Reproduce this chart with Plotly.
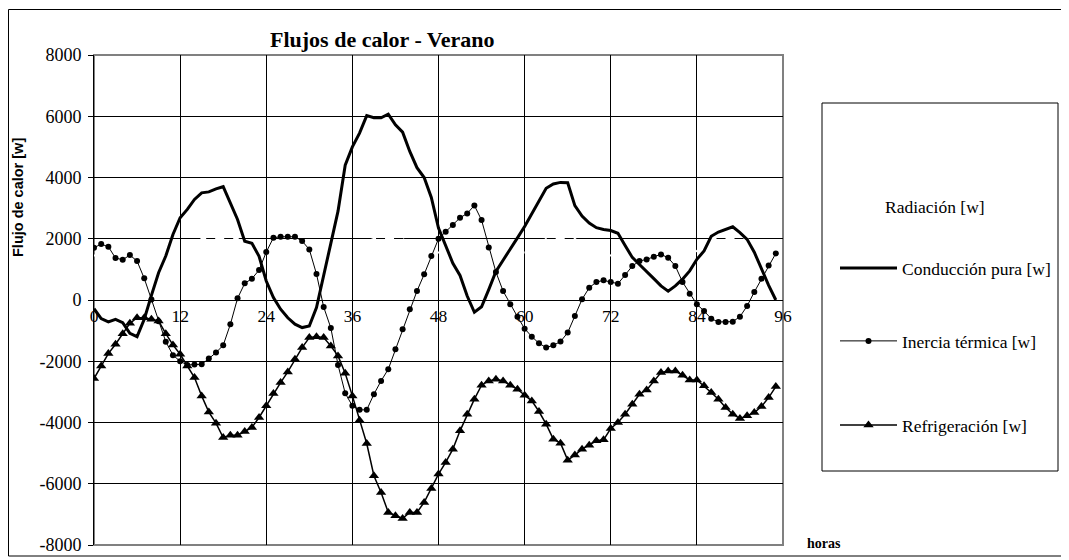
import plotly.graph_objects as go

# Datos horarios (0..95 h)
horas = list(range(96))

conduccion = [
    -283, -609, -717, -630, -739, -1087, -1196, -630, 152, 891, 1435, 2141,
    2685, 2957, 3283, 3500, 3530, 3630, 3700, 3170, 2630, 1920, 1850, 1430,
    620, 80, -300, -580, -790, -900, -850, -250, 850, 1850, 2900, 4400,
    5000, 5450, 6020, 5950, 5950, 6070, 5720, 5480, 4850, 4320, 4000, 3350,
    2350, 1760, 1200, 800, 130, -400, -220, 340, 930, 1300, 1650, 2030,
    2400, 2830, 3260, 3650, 3790, 3840, 3830, 3080, 2740, 2510, 2360, 2300,
    2270, 2180, 1780, 1390, 1160, 940, 700, 460, 290, 460, 680, 950,
    1330, 1600, 2080, 2220, 2300, 2390, 2200, 1980, 1560, 1000, 480, 0,
]

inercia = [
    1707, 1826, 1739, 1370, 1315, 1467, 1272, 707, 20, -690, -1360, -1800,
    -2000, -2120, -2110, -2100, -1913, -1717, -1478, -794, 54, 543, 696, 978,
    1565, 2033, 2065, 2065, 2065, 1924, 1652, 848, -228, -913, -2120, -3044,
    -3457, -3587, -3587, -3076, -2641, -2261, -1609, -957, -304, 293, 837, 1435,
    2000, 2228, 2446, 2685, 2826, 3087, 2609, 1717, 913, 293, -141, -544,
    -935, -1196, -1413, -1554, -1478, -1359, -1065, -522, 22, 402, 587, 641,
    587, 533, 815, 1109, 1272, 1326, 1413, 1489, 1380, 1109, 587, 207,
    -141, -359, -609, -717, -717, -707, -544, -196, 261, 696, 1130, 1522,
]

refrigeracion = [
    -2565, -2152, -1750, -1446, -1098, -761, -576, -576, -630, -685, -1098, -1467,
    -1772, -2152, -2533, -3131, -3660, -4022, -4489, -4413, -4413, -4294, -4163, -3837,
    -3457, -3054, -2696, -2348, -1935, -1554, -1228, -1196, -1228, -1500, -1826, -2391,
    -3131, -3924, -4685, -5739, -6283, -6935, -7044, -7131, -6935, -6935, -6609, -6152,
    -5685, -5305, -4870, -4272, -3728, -3239, -2783, -2641, -2587, -2641, -2783, -2913,
    -3109, -3294, -3641, -4054, -4544, -4674, -5229, -5065, -4870, -4739, -4598, -4565,
    -4196, -4000, -3728, -3402, -3076, -2935, -2641, -2370, -2315, -2315, -2457, -2609,
    -2609, -2804, -3022, -3239, -3511, -3728, -3870, -3783, -3674, -3478, -3185, -2826,
]

radiacion = [
    1450, 1450, 1450, 1450, 1450, 1480, 1500, 1520, 1540, 1550, 1550, 1550,
    1550, 1600, 1800, 2000, 2000, 2000, 2000, 2000, 2000, 1800, 1600, 1550,
    1500, 1500, 1500, 1500, 1500, 1500, 1520, 1540, 1550, 1550, 1550, 1550,
    1550, 1600, 1900, 2000, 2000, 2000, 2000, 2000, 1800, 1600, 1550, 1550,
    1550, 1550, 1550, 1550, 1550, 1550, 1550, 1550, 1550, 1550, 1550, 1550,
    1550, 1600, 1800, 2000, 2000, 2000, 2000, 2000, 1800, 1600, 1550, 1550,
    1450, 1450, 1500, 1500, 1500, 1500, 1520, 1540, 1550, 1550, 1550, 1550,
    1600, 1800, 2000, 2000, 2000, 2000, 2000, 2000, 1800, 1600, 1550, 1550,
]

xticks = [0, 12, 24, 36, 48, 60, 72, 84, 96]
yticks = [-8000, -6000, -4000, -2000, 0, 2000, 4000, 6000, 8000]

# La pagina agrega 8 px de margen al body: se trabaja en px de pantalla
OFF = 8
W, H = 1069 - OFF, 560 - OFF
L, R, T, B = 94 - OFF, 783 - OFF, 55 - OFF, 545 - OFF


def px(x):
    return (x - OFF - L) / (R - L)


def py(y):
    return (B - (y - OFF)) / (B - T)


SERIF = "Liberation Serif, Times New Roman, serif"
SANS = "Liberation Sans, Arial, sans-serif"

fig = go.Figure()

fig.add_trace(go.Scatter(
    x=horas, y=radiacion, mode='lines', name='Radiación [w]',
    line=dict(color='white', width=2, dash='dash'),
    legend='legend', hoverinfo='skip'
))
fig.add_trace(go.Scatter(
    x=horas, y=conduccion, mode='lines', name='Conducción pura [w]',
    line=dict(color='black', width=3),
    legend='legend2'
))
fig.add_trace(go.Scatter(
    x=horas, y=inercia, mode='lines+markers', name='Inercia térmica [w]',
    line=dict(color='black', width=1),
    marker=dict(symbol='circle', size=6, color='black'),
    legend='legend3'
))
fig.add_trace(go.Scatter(
    x=horas, y=refrigeracion, mode='lines+markers', name='Refrigeración [w]',
    line=dict(color='black', width=1.5),
    marker=dict(symbol='triangle-up', size=9, color='black'),
    legend='legend4'
))

# Marco exterior del grafico
fig.add_shape(type='rect', xref='paper', yref='paper',
              x0=px(8.5), x1=px(1065), y0=py(556), y1=py(9.5),
              line=dict(color='black', width=1), layer='below')
# Borde del area de trazado
fig.add_shape(type='rect', xref='paper', yref='paper',
              x0=0, x1=1, y0=0, y1=1,
              line=dict(color='#808080', width=2), layer='below')
# Caja de la leyenda
fig.add_shape(type='rect', xref='paper', yref='paper',
              x0=px(822), x1=px(1058), y0=py(471), y1=py(103),
              line=dict(color='black', width=1))

leg_common = dict(xanchor='left', yanchor='middle', bgcolor='rgba(0,0,0,0)',
                  itemwidth=57,
                  font=dict(family=SERIF, size=17.5, color='black'))
legend_y = [206, 268, 341, 425]
legend_x = [818, 835, 835, 835]

fig.add_annotation(
    xref='paper', yref='paper', x=px(382), y=py(39),
    xanchor='center', yanchor='middle',
    text='<b>Flujos de calor - Verano</b>', showarrow=False,
    font=dict(family=SERIF, size=22, color='black')
)
fig.add_annotation(
    xref='paper', yref='paper', x=px(18), y=py(198),
    xanchor='center', yanchor='middle',
    text='<b>Flujo de calor [w]</b>', showarrow=False, textangle=-90,
    font=dict(family=SANS, size=14.5, color='black')
)
fig.add_annotation(
    xref='paper', yref='paper', x=px(824), y=py(543),
    xanchor='center', yanchor='middle',
    text='<b>horas</b>', showarrow=False,
    font=dict(family=SERIF, size=14, color='black')
)

fig.update_layout(
    width=W, height=H,
    margin=dict(l=L, r=W - R, t=T, b=H - B, autoexpand=False),
    paper_bgcolor='white', plot_bgcolor='white',
    showlegend=True,
    legend=dict(x=px(legend_x[0]), y=py(legend_y[0]), **leg_common),
    legend2=dict(x=px(legend_x[1]), y=py(legend_y[1]), **leg_common),
    legend3=dict(x=px(legend_x[2]), y=py(legend_y[2]), **leg_common),
    legend4=dict(x=px(legend_x[3]), y=py(legend_y[3]), **leg_common),
    xaxis=dict(
        range=[0, 96], tickvals=xticks, ticktext=[str(t) for t in xticks],
        anchor='free', position=0.5, automargin=False,
        showgrid=True, gridcolor='black', gridwidth=1,
        zeroline=False, showline=True, linecolor='black', linewidth=1,
        ticks='', tickfont=dict(family=SERIF, size=17.5, color='black'),
    ),
    yaxis=dict(
        range=[-8000, 8000], tickvals=yticks,
        ticktext=[str(t) for t in yticks], automargin=False,
        showgrid=True, gridcolor='black', gridwidth=1,
        zeroline=False, showline=True, linecolor='black', linewidth=1,
        ticks='outside', ticklen=5, tickcolor='black', ticklabelstandoff=3,
        tickfont=dict(family=SERIF, size=18, color='black'),
    ),
)

fig.write_html("out.html")
